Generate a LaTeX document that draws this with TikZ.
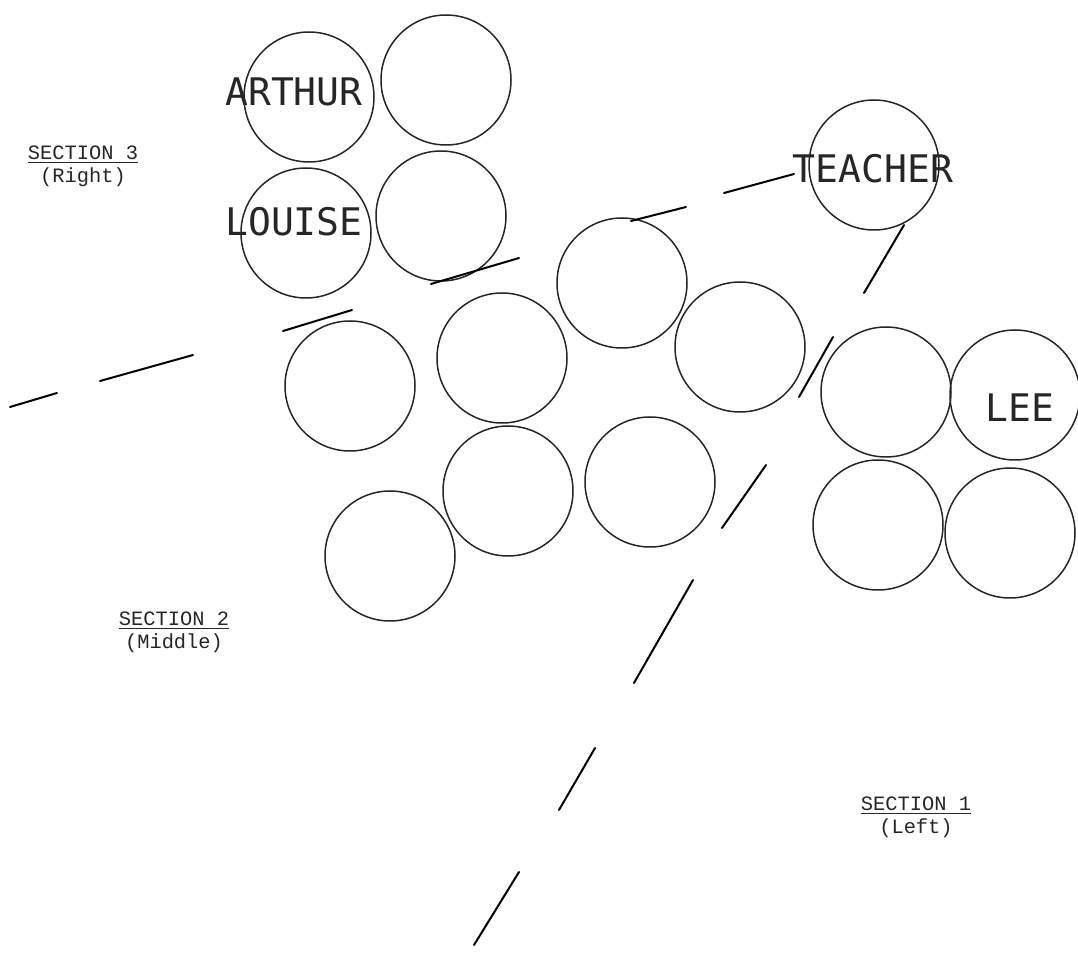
\documentclass[tikz,border=0pt]{standalone}
\usepackage{fontspec}
\newfontfamily\letterfont{DejaVu Sans Mono}
\newfontfamily\typefont{Liberation Mono}
\begin{document}
\begin{tikzpicture}[x=0.5pt,y=-0.5pt,
  seat/.style={circle,draw=black!85,line width=0.75pt,minimum size=65pt,inner sep=0pt},
  namelabel/.style={font=\letterfont\fontsize{19}{19}\selectfont,inner sep=0pt,text=black!85},
  seclabel/.style={font=\typefont\fontsize{10.2}{11.5}\selectfont,align=center,inner sep=0pt,text=black!85},
  divide/.style={draw=black,line width=1pt,line cap=round}]
\useasboundingbox (0,0) rectangle (1078,957);
% seats
\node[seat] (arthur) at (309,97) {};
\node[seat] (ar) at (446,80) {};
\node[seat] (louise) at (306,233) {};
\node[seat] (lr) at (441,216) {};
\node[seat] (teacher) at (874,165) {};
\node[seat] (m1) at (622,283) {};
\node[seat] (c1) at (350,386) {};
\node[seat] (c2) at (502,358) {};
\node[seat] (m2) at (740,347) {};
\node[seat] (leel) at (886,392) {};
\node[seat] (lee) at (1015,395) {};
\node[seat] (leebl) at (878,525) {};
\node[seat] (leebr) at (1010,533) {};
\node[seat] (b1) at (390,556) {};
\node[seat] (b2) at (508,491) {};
\node[seat] (b3) at (650,482) {};
% names
\node[namelabel] (tarthur) at (294,92) {ARTHUR};
\node[namelabel] (tlouise) at (294,222) {LOUISE};
\node[namelabel] (tteacher) at (873,169) {TEACHER};
\node[namelabel] (tlee) at (1020,408) {LEE};
% section labels
\node[seclabel] (s3) at (83,166) {\underline{SECTION 3}\\(Right)};
\node[seclabel] (s2) at (174,632) {\underline{SECTION 2}\\(Middle)};
\node[seclabel] (s1) at (916,817) {\underline{SECTION 1}\\(Left)};
% dividing line segments
\coordinate (a1) at (10,407);  \coordinate (a2) at (57,393);
\coordinate (b1s) at (100,381); \coordinate (b2s) at (193,355);
\coordinate (c1s) at (283,331); \coordinate (c2s) at (352,310);
\coordinate (d1) at (431,284); \coordinate (d2) at (519,258);
\coordinate (e1) at (631,221); \coordinate (e2) at (686,207);
\coordinate (f1) at (724,193); \coordinate (f2) at (794,174);
\coordinate (g1) at (904,225); \coordinate (g2) at (864,293);
\coordinate (h1) at (833,337); \coordinate (h2) at (799,397);
\coordinate (i1) at (766,465); \coordinate (i2) at (722,528);
\coordinate (j1) at (693,580); \coordinate (j2) at (634,683);
\coordinate (k1) at (595,748); \coordinate (k2) at (559,810);
\coordinate (l1) at (519,872); \coordinate (l2) at (474,945);
\draw[divide] (a1) -- (a2);
\draw[divide] (b1s) -- (b2s);
\draw[divide] (c1s) -- (c2s);
\draw[divide] (d1) -- (d2);
\draw[divide] (e1) -- (e2);
\draw[divide] (f1) -- (f2);
\draw[divide] (g1) -- (g2);
\draw[divide] (h1) -- (h2);
\draw[divide] (i1) -- (i2);
\draw[divide] (j1) -- (j2);
\draw[divide] (k1) -- (k2);
\draw[divide] (l1) -- (l2);
\end{tikzpicture}
\end{document}
